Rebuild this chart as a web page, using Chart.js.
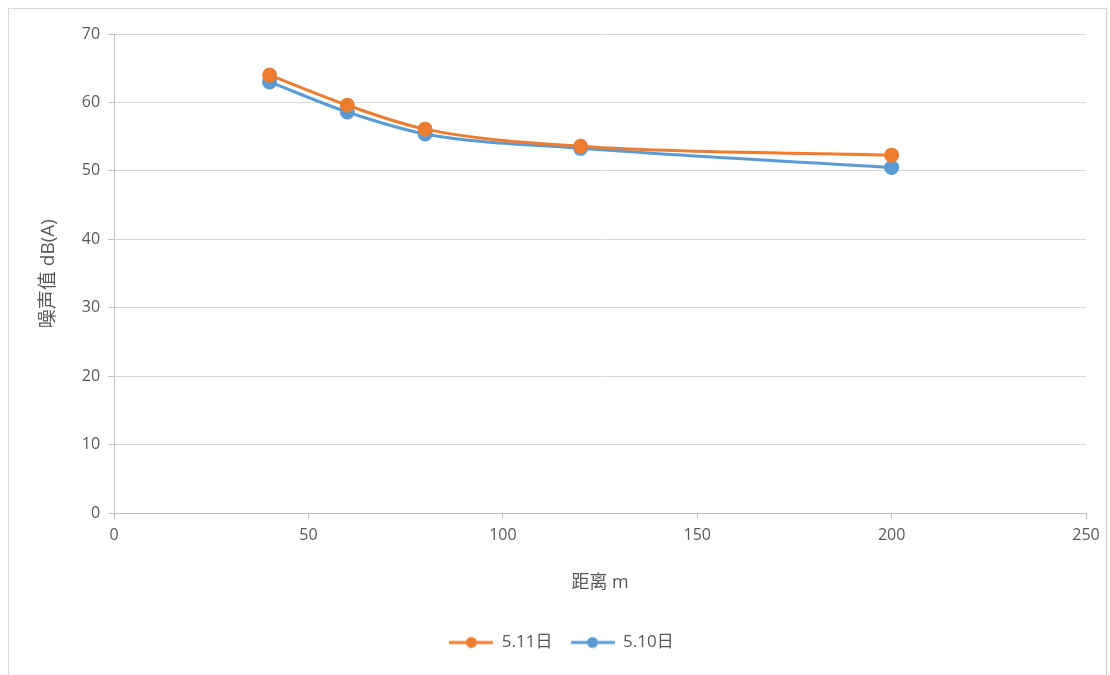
<!DOCTYPE html>
<html>
<head>
<meta charset="utf-8">
<script src="https://cdn.jsdelivr.net/npm/chart.js@4/dist/chart.umd.min.js"></script>
<style>
  html, body { margin: 0; padding: 0; background: #fff; }
  #wrap { position: relative; width: 1110px; height: 675px; overflow: hidden; }
  #frame { position: absolute; left: 8px; top: 8px; width: 1099px; height: 700px; border: 1px solid #d9d9d9; box-sizing: border-box; }
  canvas { position: absolute; left: 0; top: 0; }
</style>
</head>
<body>
<div id="wrap">
  <div id="frame"></div>
  <canvas id="c" width="1110" height="675"></canvas>
</div>
<script>
const distances = [40, 60, 80, 120, 200];
const series511 = [64.0, 59.6, 56.1, 53.6, 52.3];
const series510 = [63.0, 58.6, 55.4, 53.3, 50.5];
const seriesNames = ['5.11日', '5.10日'];
const seriesColors = ['#ED7D31', '#5B9BD5'];
const xTitle = '距离 m';
const yTitle = '噪声值 dB(A)';

const FONT = '"Open Sans", "Noto Sans CJK SC", sans-serif';

function legendIcon(color) {
  const c = document.createElement('canvas');
  c.width = 44; c.height = 14;
  const g = c.getContext('2d');
  g.strokeStyle = color; g.lineWidth = 3;
  g.beginPath(); g.moveTo(0, 7); g.lineTo(44, 7); g.stroke();
  g.fillStyle = color;
  g.beginPath(); g.arc(22, 7, 5.5, 0, Math.PI * 2); g.fill();
  return c;
}

const toPts = (ys) => distances.map((x, i) => ({ x: x, y: ys[i] }));

new Chart(document.getElementById('c'), {
  type: 'line',
  data: {
    datasets: [
      { label: seriesNames[0], data: toPts(series511), borderColor: seriesColors[0], backgroundColor: seriesColors[0],
        borderWidth: 3, pointRadius: 6, pointHoverRadius: 6, tension: 0.35, cubicInterpolationMode: 'monotone' },
      { label: seriesNames[1], data: toPts(series510), borderColor: seriesColors[1], backgroundColor: seriesColors[1],
        borderWidth: 3, pointRadius: 6, pointHoverRadius: 6, tension: 0.35, cubicInterpolationMode: 'monotone' }
    ]
  },
  options: {
    responsive: false,
    animation: false,
    layout: { padding: { left: 37, right: 24, top: 34, bottom: 14 } },
    plugins: {
      tooltip: { enabled: false },
      legend: {
        position: 'bottom',
        labels: {
          font: { family: FONT, size: 17 },
          color: '#595959',
          usePointStyle: true,
          pointStyleWidth: 44,
          boxHeight: 14,
          padding: 18,
          generateLabels: (chart) => chart.data.datasets.map((ds, i) => ({
            text: ds.label, fillStyle: ds.borderColor, strokeStyle: ds.borderColor,
            pointStyle: legendIcon(ds.borderColor), datasetIndex: i, lineWidth: 0, fontColor: '#595959'
          }))
        }
      }
    },
    scales: {
      x: {
        type: 'linear', min: 0, max: 250,
        ticks: { stepSize: 50, color: '#595959', font: { family: FONT, size: 16 }, padding: 7 },
        grid: { drawOnChartArea: false, drawTicks: true, tickLength: 6, color: '#bfbfbf' },
        border: { color: '#bfbfbf' },
        title: { display: true, text: xTitle, color: '#595959', font: { family: FONT, size: 18 }, padding: { top: 20, bottom: 22 } }
      },
      y: {
        min: 0, max: 70,
        ticks: { stepSize: 10, color: '#595959', font: { family: FONT, size: 16 }, padding: 8 },
        grid: { color: '#d9d9d9', tickLength: 6, tickColor: '#bfbfbf' },
        border: { color: '#bfbfbf' },
        title: { display: true, text: yTitle, color: '#595959', font: { family: FONT, size: 19 }, padding: { top: 0, bottom: 14 } }
      }
    }
  }
});
</script>
</body>
</html>
